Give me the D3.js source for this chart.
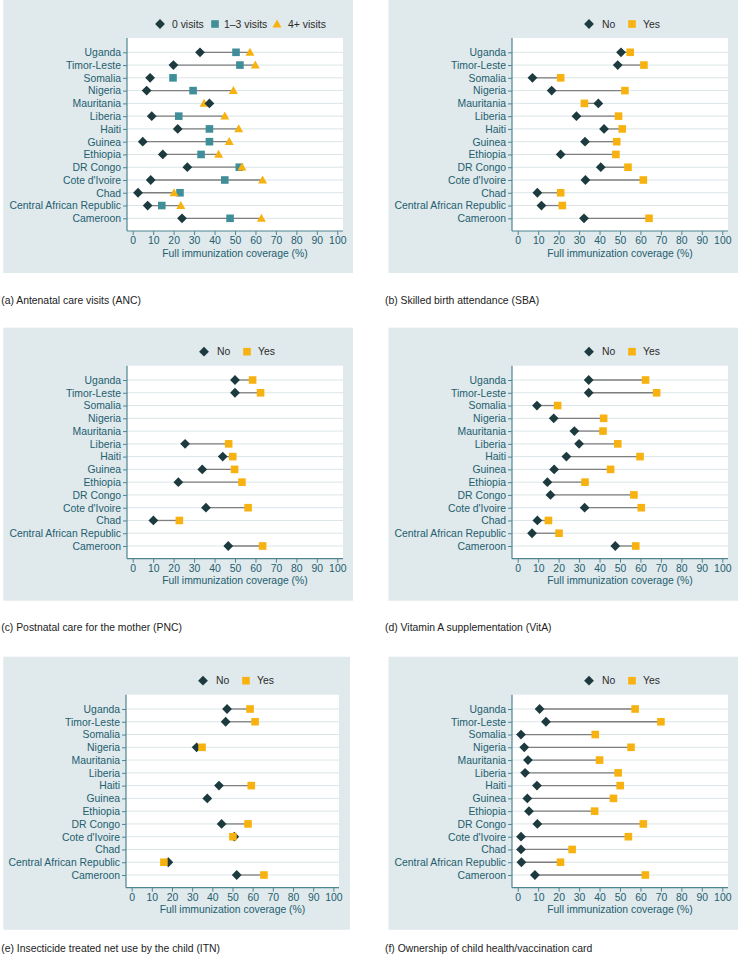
<!DOCTYPE html>
<html><head><meta charset="utf-8">
<script src="https://cdn.jsdelivr.net/npm/d3@7"></script>
<style>
body{margin:0;background:#fff}
svg{display:block}
text{font-family:"Liberation Sans",Arial,Helvetica,sans-serif}
</style>
</head><body>
<svg id="c" width="738" height="954"></svg>
<script>
// ---------- data ----------
const countries = ["Uganda","Timor-Leste","Somalia","Nigeria","Mauritania","Liberia","Haiti","Guinea","Ethiopia","DR Congo","Cote d'Ivoire","Chad","Central African Republic","Cameroon"];
const xTicks = [0,10,20,30,40,50,60,70,80,90,100];
const xTitle = "Full immunization coverage (%)";

// (a) ANC
const anc0  = [32.9,19.9,8.5,6.8,37.5,9.3,22.0,4.9,14.7,26.7,8.8,2.6,7.3,24.1];
const anc13 = [50.5,52.4,19.7,29.5,null,22.5,37.5,37.5,33.4,52.1,45.0,23.1,14.2,47.6];
const anc4  = [57.3,59.9,null,49.2,34.9,45.0,51.8,47.2,42.0,53.4,63.5,20.2,23.5,62.9];
// (b) SBA
const sbaNo  = [50.5,48.9,7.2,16.6,39.4,28.7,42.2,32.9,21.0,40.6,33.1,9.6,11.6,32.4];
const sbaYes = [55.0,61.7,21.0,52.4,32.6,49.3,51.1,48.4,48.0,53.9,61.4,21.0,21.8,64.2];
// (c) PNC
const pncNo  = [50.0,50.0,null,null,null,25.6,44.0,34.0,22.3,null,35.8,10.1,null,46.7];
const pncYes = [58.6,62.5,null,null,null,46.9,48.9,49.8,53.4,null,56.4,22.8,null,63.5];
// (d) VitA
const vitNo  = [34.7,34.7,9.4,17.6,27.7,30.0,23.8,17.8,14.5,16.0,32.7,9.6,7.0,47.7];
const vitYes = [62.5,67.9,19.5,42.0,41.7,48.9,59.8,45.4,32.9,56.8,60.4,15.0,20.2,57.7];
// (e) ITN
const itnNo  = [47.3,46.6,null,32.2,null,null,43.3,37.5,null,44.6,50.9,null,18.2,52.1];
const itnYes = [58.7,61.2,null,34.9,null,null,59.3,null,null,57.7,50.2,null,16.0,65.6];
// (f) Card
const cardNo  = [10.7,13.8,1.6,3.2,5.0,3.6,9.4,4.7,5.5,9.6,1.6,1.6,1.8,8.4];
const cardYes = [57.4,70.0,37.9,55.4,40.0,49.1,50.1,46.8,37.6,61.4,54.1,26.6,20.9,62.4];

const captions = ["(a) Antenatal care visits (ANC)","(b) Skilled birth attendance (SBA)","(c) Postnatal care for the mother (PNC)","(d) Vitamin A supplementation (VitA)","(e) Insecticide treated net use by the child (ITN)","(f) Ownership of child health/vaccination card"];
const visitLabels = ["0 visits","1\u20133 visits","4+ visits"];
const ynLabels = ["No","Yes"];

// ---------- style ----------
const C_DARK = "#1d3b3f", C_TEAL = "#3f8e99", C_YEL = "#f8b20f";
const BG = "#e0e9ec", GRID = "#dbe5e8", AXIS = "#4f8591", LBL = "#23606f", LINE = "#7f7f7f";
const FS = 10.4;

const svg = d3.select("#c");

const rowTops = [0, 327.7, 656.7];
const captionYs = [300, 627.5, 948.5];
const colX = [0, 385];

function shapePath(shape, x, y){
  const p = d3.path();
  if(shape==="diamond"){ const r=4.9; p.moveTo(x,y-r); p.lineTo(x+r,y); p.lineTo(x,y+r); p.lineTo(x-r,y); p.closePath(); }
  else if(shape==="square"){ const h=3.8; p.rect(x-h,y-h,2*h,2*h); }
  else { const w=4.5, t=4.6, b=3.4; p.moveTo(x,y-t); p.lineTo(x+w,y+b); p.lineTo(x-w,y+b); p.closePath(); }
  return p.toString();
}

const panels = [
  {cap:0,row:0,col:0, series:[{n:visitLabels[0],v:anc0,s:"diamond",c:C_DARK},{n:visitLabels[1],v:anc13,s:"square",c:C_TEAL},{n:visitLabels[2],v:anc4,s:"triangle",c:C_YEL}], line:[0,2], order:[1,2,0], legendX:[[33,45],[88,97],[150,161]]},
  {cap:1,row:0,col:1, series:[{n:ynLabels[0],v:sbaNo,s:"diamond",c:C_DARK},{n:ynLabels[1],v:sbaYes,s:"square",c:C_YEL}], line:[0,1], order:[0,1]},
  {cap:2,row:1,col:0, series:[{n:ynLabels[0],v:pncNo,s:"diamond",c:C_DARK},{n:ynLabels[1],v:pncYes,s:"square",c:C_YEL}], line:[0,1], order:[0,1]},
  {cap:3,row:1,col:1, series:[{n:ynLabels[0],v:vitNo,s:"diamond",c:C_DARK},{n:ynLabels[1],v:vitYes,s:"square",c:C_YEL}], line:[0,1], order:[0,1]},
  {cap:4,row:2,col:0, series:[{n:ynLabels[0],v:itnNo,s:"diamond",c:C_DARK},{n:ynLabels[1],v:itnYes,s:"square",c:C_YEL}], line:[0,1], order:[0,1], narrow:true},
  {cap:5,row:2,col:1, series:[{n:ynLabels[0],v:cardNo,s:"diamond",c:C_DARK},{n:ynLabels[1],v:cardYes,s:"square",c:C_YEL}], line:[0,1], order:[0,1]}
];

panels.forEach(P=>{
  const top = rowTops[P.row], ox = colX[P.col];
  const bgL = ox + (P.col===0 ? 3.3 : 3.5), bgR = P.col===0 ? (P.narrow?350:353) : 738;
  const pL = ox + (P.narrow?126:127), pR = ox + (P.narrow?339:343);
  const pT = top + 38, pB = top + 231;
  const g = svg.append("g");

  g.append("rect").attr("x",bgL).attr("y",top).attr("width",bgR-bgL).attr("height",273).attr("fill",BG);
  g.append("rect").attr("x",pL).attr("y",pT).attr("width",pR-pL).attr("height",pB-pT).attr("fill","#fff");

  const x = d3.scaleLinear().domain([-2.8,102.8]).range([pL,pR]);
  const y = d3.scalePoint().domain(countries).range([top+52.3, top+218.3]);

  // grid
  g.selectAll("line.grid").data(countries).join("line")
    .attr("x1",pL).attr("x2",pR).attr("y1",d=>y(d)).attr("y2",d=>y(d))
    .attr("stroke",GRID).attr("stroke-width",1);

  // axes
  const ya = g.append("g").attr("transform",`translate(${pL},0)`)
    .call(d3.axisLeft(y).tickSize(4).tickPadding(2));
  ya.select(".domain").remove();
  ya.selectAll("line").attr("stroke",AXIS);
  ya.selectAll("text").attr("font-size",FS).attr("fill",LBL).attr("font-family",null);

  const xa = g.append("g").attr("transform",`translate(0,${pB})`)
    .call(d3.axisBottom(x).tickValues(xTicks).tickSize(4).tickPadding(1.5));
  xa.select(".domain").remove();
  xa.selectAll("line").attr("stroke",AXIS);
  xa.selectAll("text").attr("font-size",FS).attr("fill",LBL).attr("font-family",null);

  g.append("line").attr("x1",pL).attr("x2",pL).attr("y1",pT).attr("y2",pB).attr("stroke",AXIS).attr("stroke-width",1.2);
  g.append("line").attr("x1",pL).attr("x2",pR).attr("y1",pB).attr("y2",pB).attr("stroke",AXIS).attr("stroke-width",1.2);

  g.append("text").attr("x",x(50)).attr("y",top+253).attr("dy","0.35em")
    .attr("text-anchor","middle").attr("font-size",FS).attr("fill",LBL).text(xTitle);

  // connecting lines
  const [a,b] = P.line;
  const A = P.series[a].v, B = P.series[b].v;
  g.selectAll("line.conn").data(countries.map((c,i)=>({c,lo:A[i],hi:B[i]})).filter(d=>d.lo!=null&&d.hi!=null))
    .join("line").attr("x1",d=>x(d.lo)).attr("x2",d=>x(d.hi)).attr("y1",d=>y(d.c)).attr("y2",d=>y(d.c))
    .attr("stroke",LINE).attr("stroke-width",1.3);

  // markers
  P.order.forEach(si=>{
    const S = P.series[si];
    g.selectAll(null).data(countries.map((c,i)=>({c,v:S.v[i]})).filter(d=>d.v!=null))
      .join("path").attr("d",d=>shapePath(S.s,x(d.v),y(d.c))).attr("fill",S.c);
  });

  // legend
  const ly = top + 24;
  const lx = P.legendX || [[77,90],[120,131]];
  P.series.forEach((S,i)=>{
    g.append("path").attr("d",shapePath(S.s, pL+lx[i][0], ly)).attr("fill",S.c);
    g.append("text").attr("x",pL+lx[i][1]).attr("y",ly).attr("dy","0.35em")
      .attr("font-size",FS).attr("fill","#2b2b2b").text(S.n);
  });

  // caption
  svg.append("text").attr("x",ox+(P.col===0?1.2:0)).attr("y",captionYs[P.row]).attr("dy","0.35em")
    .attr("font-size",FS).attr("fill","#222").text(captions[P.cap]);
});
</script>
</body></html>
